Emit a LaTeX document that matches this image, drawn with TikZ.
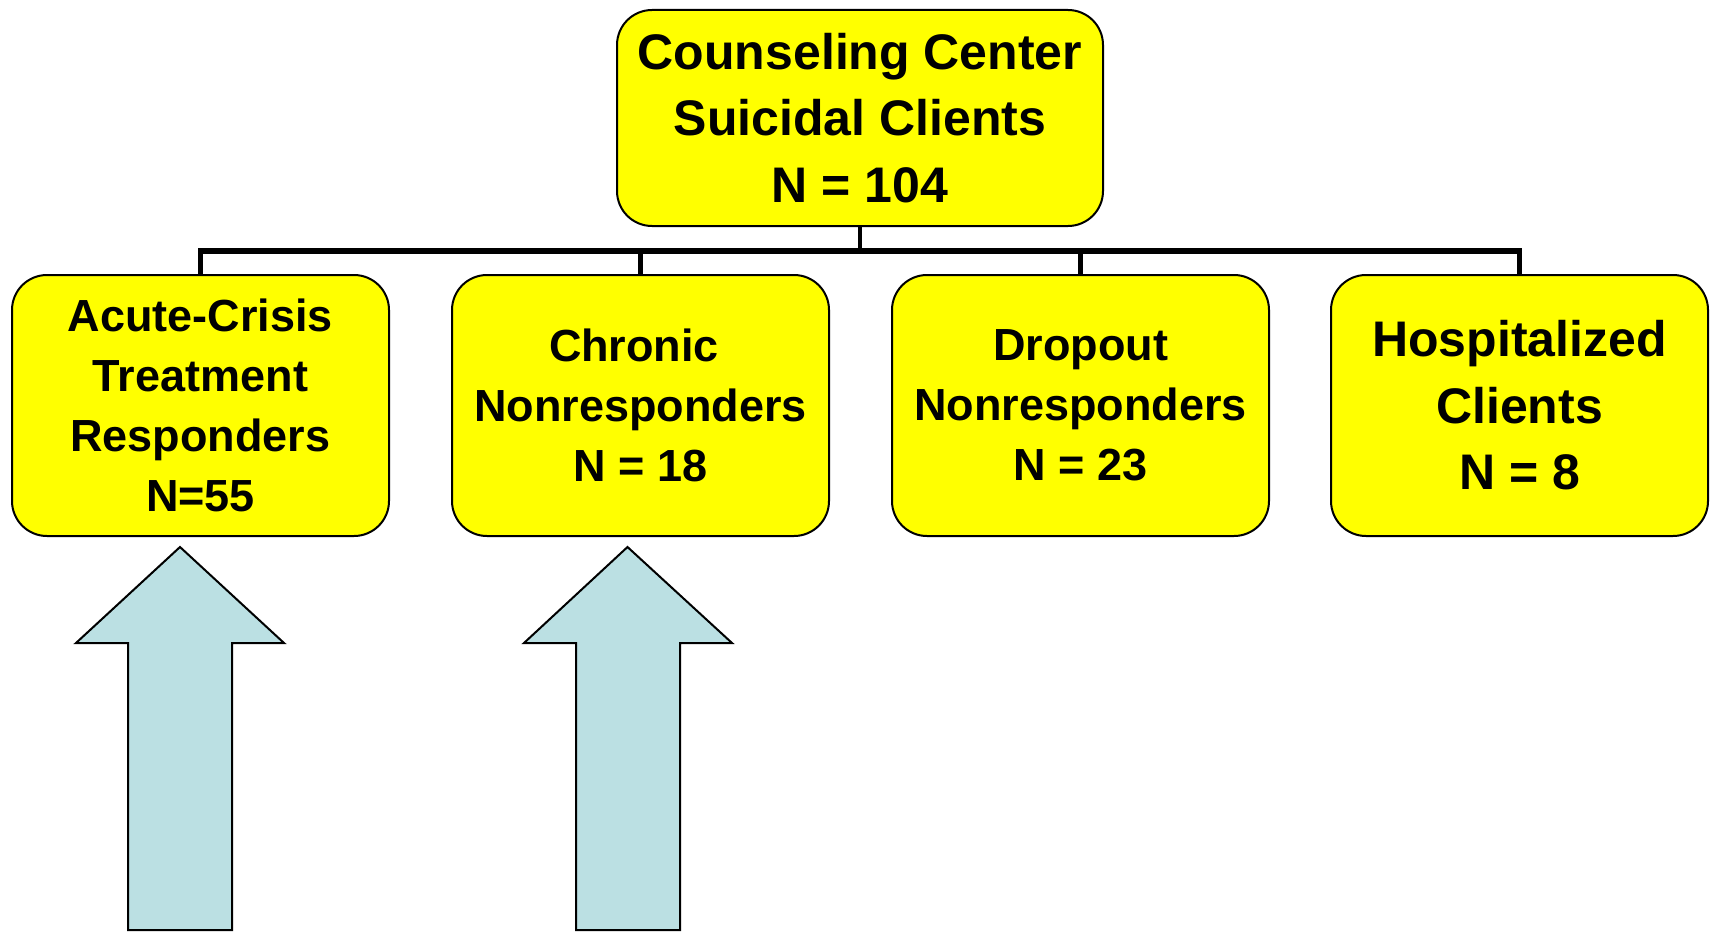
\documentclass[tikz,border=0pt]{standalone}
\usepackage{fontspec}
\setmainfont{Liberation Sans}
\definecolor{boxyellow}{RGB}{255,255,0}
\definecolor{arrowblue}{RGB}{187,224,227}
\begin{document}
\begin{tikzpicture}[x=1pt,y=-1pt,
  ybox/.style={draw=black,line width=2pt,fill=boxyellow,rounded corners=35pt,
    align=center,inner sep=0pt,font=\bfseries},
  small/.style={ybox,minimum width=377pt,minimum height=261pt,
    font=\bfseries\fontsize{45}{60}\selectfont},
  big/.style={font=\bfseries\fontsize{50}{66.6}\selectfont},
  conn/.style={draw=black,line width=4.5pt},
  busline/.style={draw=black,line width=6pt},
  uparrow/.style={draw=black,line width=2pt,fill=arrowblue,line join=miter}]
\useasboundingbox (0,0) rectangle (1712,931);
\node[ybox,big,minimum width=486pt,minimum height=216pt] (top) at (860,118)
  {Counseling Center\\Suicidal Clients\\N = 104};
\node[small] (b1) at (200.5,405.5) {Acute-Crisis\\Treatment\\Responders\\N=55};
\node[small] (b2) at (640.5,405.5) {Chronic\hspace*{13pt}\\Nonresponders\\N = 18};
\node[small] (b3) at (1080.5,405.5) {Dropout\\Nonresponders\\N = 23};
\node[small,big] (b4) at (1519.5,405.5) {Hospitalized\\Clients\\N = 8};
\coordinate (bus) at (860,250.5);
\draw[conn] (top.south) -- (top.south |- bus);
\draw[busline] ([xshift=-2.25pt]b1.north |- bus) -- ([xshift=2.25pt]b4.north |- bus);
\foreach \b in {b1,b2,b3,b4}
  \draw[conn] (\b.north |- bus) -- (\b.north);
% block arrows
\draw[uparrow] (180,547) -- (284,643) -- (232,643) -- (232,930) -- (128,930)
  -- (128,643) -- (76,643) -- cycle;
\draw[uparrow] (627.5,547) -- (732,643) -- (680,643) -- (680,930) -- (576,930)
  -- (576,643) -- (524,643) -- cycle;
\end{tikzpicture}
\end{document}
